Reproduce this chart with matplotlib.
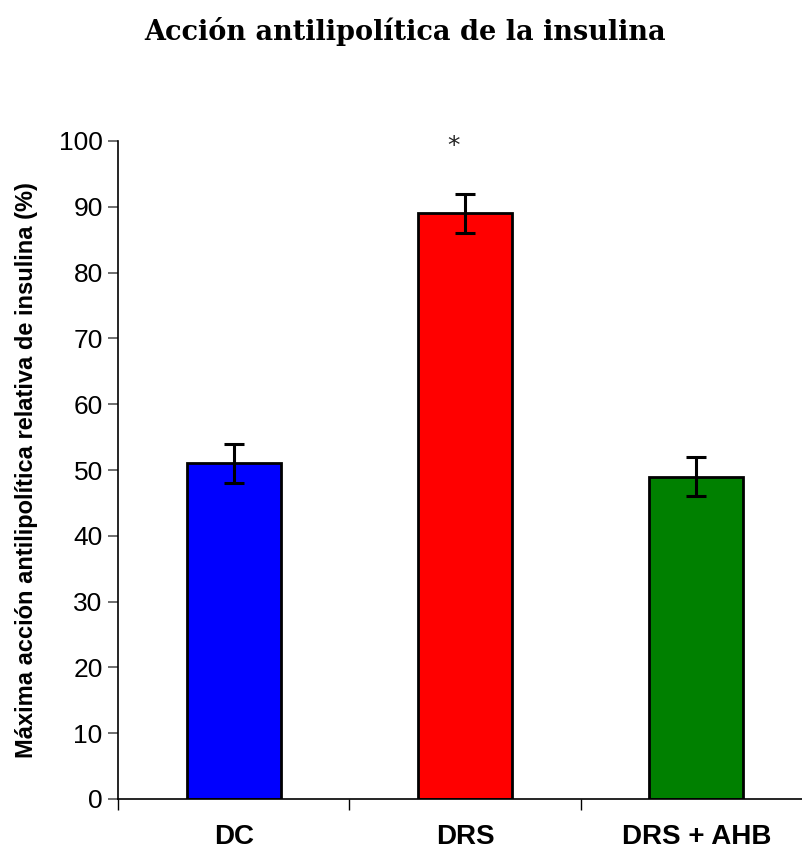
import matplotlib
matplotlib.use("Agg")
import matplotlib.pyplot as plt
import numpy as np

groups = ["DC", "DRS", "DRS + AHB"]
values = [51, 89, 49]
errors = [3, 3, 3]
colors = ["#0000ff", "#ff0000", "#008000"]
star_value = 99.3

fig = plt.figure(figsize=(8.02, 8.52), dpi=100)
ax = fig.add_axes([118 / 802, 1 - 799 / 852, 694 / 802, (799 - 141) / 852])

x = np.arange(len(groups))
ax.bar(x, values, width=0.406, color=colors, edgecolor="black", linewidth=2, zorder=2)
ax.errorbar(x, values, yerr=errors, fmt="none", ecolor="black",
            elinewidth=2.2, capsize=7, capthick=2.2, zorder=3)
ax.text(x[1] - 0.05, star_value, "*", ha="center", va="center",
        fontsize=18, family="DejaVu Sans", color="#222222")

ax.set_xlim(-0.5, 2.5)
ax.set_ylim(0, 100)
ax.set_yticks(np.arange(0, 101, 10))
ax.set_yticklabels([str(v) for v in range(0, 101, 10)],
                   family="Liberation Sans", fontsize=19)
ax.tick_params(axis="y", direction="out", length=7, width=1.2, color="#555555", pad=4)

# category boundaries carry the tick marks; labels sit under the bars
ax.set_xticks(x - 0.5, minor=True)
ax.set_xticks(x)
ax.set_xticklabels(groups, family="Liberation Sans", fontweight="bold", fontsize=20)
ax.tick_params(axis="x", which="major", length=0, pad=18)
ax.tick_params(axis="x", which="minor", direction="out", length=8, width=1)

for side in ("top", "right"):
    ax.spines[side].set_visible(False)
ax.spines["left"].set_linewidth(1.2)
ax.spines["bottom"].set_linewidth(1.2)

ax.set_ylabel("Máxima acción antilipolítica relativa de insulina (%)",
              family="Liberation Sans", fontweight="bold", fontsize=17, labelpad=15)

fig.text(405 / 802, 1 - 31 / 852, "Acción antilipolítica de la insulina",
         ha="center", va="center", family="DejaVu Serif", fontweight="bold",
         fontsize=19.5)

fig.savefig("out.png", dpi=100)
